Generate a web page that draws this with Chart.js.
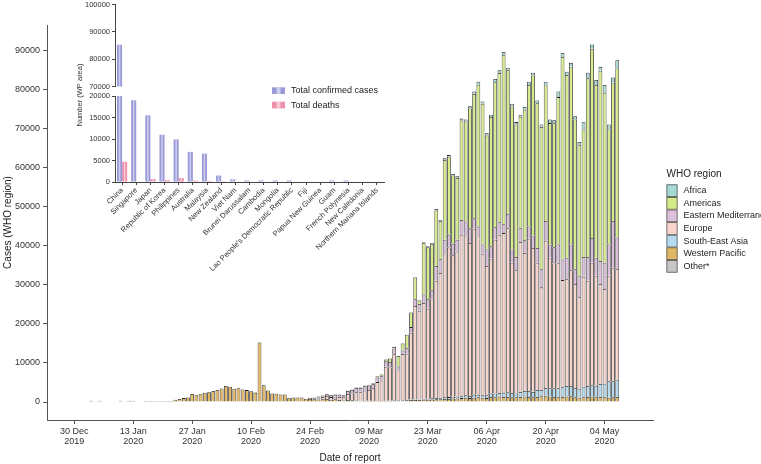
<!DOCTYPE html>
<html>
<head>
<meta charset="utf-8">
<script src="https://cdn.jsdelivr.net/npm/chart.js@4.4.1/dist/chart.umd.min.js"></script>
<style>
  body { margin: 0; background: #fff; }
  #wrap { position: relative; width: 761px; height: 464px; overflow: hidden; }
  canvas { position: absolute; }
  #main { left: 0; top: 0; }
  #insetTop { left: 60px; top: -2px; }
  #insetLow { left: 60px; top: 56px; }
</style>
</head>
<body>
<div id="wrap">
  <canvas id="main" width="761" height="464"></canvas>
  <canvas id="insetTop" width="330" height="95"></canvas>
  <canvas id="insetLow" width="330" height="220"></canvas>
</div>
<script>
// daily new cases by WHO region, one row per week, 30 Dec 2019 .. 07 May 2020
const westernPacific = [
  0, 0, 0, 0, 300, 0, 300,                      // 30 Dec
  0, 0, 0, 0, 300, 0, 300,                      // 06 Jan
  300, 0, 0, 250, 250, 250, 250,                // 13 Jan
  250, 250, 250, 600, 800, 1000, 1150,          // 20 Jan
  2050, 1700, 2100, 2350, 2500, 2800, 3100,     // 27 Jan
  3450, 4080, 3900, 3400, 3650, 3200, 3050,     // 03 Feb
  2750, 2400, 15240, 4300, 2950, 2190, 2110,    // 10 Feb
  1940, 1940, 930, 1180, 1180, 1180, 850,       // 17 Feb
  800, 700, 650, 700, 800, 600, 700,            // 24 Feb
  500, 400, 500, 450, 400, 350, 300,            // 02 Mar
  300, 250, 250, 250, 300, 300, 400,            // 09 Mar
  400, 400, 450, 500, 500, 500, 600,            // 16 Mar
  600, 650, 700, 700, 800, 800, 900,            // 23 Mar
  900, 1000, 1100, 1000, 1100, 1200, 1100,      // 30 Mar
  1000, 1300, 1200, 1400, 1300, 1300, 1200,     // 06 Apr
  1200, 1300, 1400, 1300, 1200, 1300, 1500,     // 13 Apr
  1600, 1400, 1300, 1200, 1300, 1400, 1500,     // 20 Apr
  1200, 1100, 1200, 1300, 1400, 1200, 1300,     // 27 Apr
  1200, 1100, 1200, 1300                        // 04 May
];
const southEastAsia = [
  0, 0, 0, 0, 0, 0, 0,
  0, 0, 0, 0, 0, 0, 0,
  0, 0, 0, 0, 0, 0, 0,
  0, 0, 0, 0, 0, 0, 0,
  0, 0, 0, 0, 0, 0, 0,
  0, 0, 0, 0, 0, 0, 0,
  0, 0, 0, 0, 0, 0, 0,
  0, 0, 0, 0, 0, 0, 0,
  0, 0, 0, 0, 0, 0, 0,
  0, 0, 0, 0, 0, 0, 0,
  0, 0, 40, 40, 50, 50, 100,                    // 09 Mar
  100, 100, 100, 150, 150, 150, 200,
  250, 300, 300, 350, 400, 450, 450,
  500, 500, 600, 550, 800, 700, 600,
  700, 900, 1000, 900, 1100, 1200, 1100,
  1000, 1300, 1400, 1500, 1400, 1800, 1600,
  2000, 2100, 2200, 2300, 2500, 2700, 2600,
  2400, 2300, 2700, 2800, 2900, 3000, 3300,
  3500, 4200, 4100, 4400
];
const europe = [
  0, 0, 0, 0, 0, 0, 0,
  0, 0, 0, 0, 0, 0, 0,
  0, 0, 0, 0, 0, 0, 0,
  0, 0, 0, 0, 0, 0, 0,
  0, 0, 0, 0, 0, 0, 0,
  0, 0, 0, 0, 0, 0, 0,
  0, 0, 0, 0, 0, 0, 0,
  0, 0, 0, 0, 0, 0, 0,
  200, 280, 530, 600, 750, 650, 650,            // 24 Feb
  800, 800, 1550, 1750, 2100, 2140, 2660,
  2800, 3240, 4800, 5200, 8650, 8500, 11700,
  7800, 11800, 11800, 17100, 23900, 22700, 24500,
  23000, 25500, 30000, 31950, 36800, 38250, 36150,
  37100, 41270, 40900, 39120, 42390, 40700, 36200,
  33090, 34440, 39310, 40470, 40790, 41950, 33340,
  31500, 38320, 35340, 38960, 36810, 32540, 26220,
  37660, 33390, 31900, 32140, 27370, 27320, 29600,
  26570, 23400, 28110, 26900, 31340, 28070, 25570,
  24210, 26970, 29070, 28250
];
const easternMed = [
  0, 0, 0, 0, 0, 0, 0,
  0, 0, 0, 0, 0, 0, 0,
  0, 0, 0, 0, 0, 0, 0,
  0, 0, 0, 0, 0, 0, 0,
  0, 0, 0, 0, 0, 0, 0,
  0, 0, 0, 0, 0, 0, 0,
  0, 0, 0, 0, 0, 0, 0,
  0, 0, 0, 0, 0, 0, 0,
  100, 200, 250, 350, 450, 500, 550,            // 24 Feb
  600, 550, 800, 900, 1100, 1100, 1100,
  1100, 1050, 1200, 1100, 1400, 1400, 1500,
  800, 900, 1400, 1400, 1700, 1700, 2200,
  2400, 2100, 3800, 3500, 3500, 3300, 3000,
  3000, 3790, 3540, 3780, 2690, 2280, 2360,
  4210, 3200, 3200, 3200, 2280, 3540, 3360,
  3360, 3530, 3200, 3120, 3190, 3770, 4630,
  5050, 3370, 4180, 4620, 5300, 5470, 6560,
  3780, 5470, 5050, 6060, 6290, 4620, 5880,
  6730, 7990, 11940, 8140
];
const americas = [
  0, 0, 0, 0, 0, 0, 0,
  0, 0, 0, 0, 0, 0, 0,
  0, 0, 0, 0, 0, 0, 0,
  0, 0, 0, 0, 0, 0, 0,
  0, 0, 0, 0, 0, 0, 0,
  0, 0, 0, 0, 0, 0, 0,
  0, 0, 0, 0, 0, 0, 0,
  0, 0, 0, 0, 0, 0, 0,
  0, 0, 0, 40, 30, 20, 40,                      // 24 Feb
  40, 20, 100, 100, 110, 110, 140,
  200, 260, 320, 450, 500, 900, 400,
  2650, 1750, 3450, 3750, 5600, 900, 13100,
  13300, 11800, 14200, 9700, 20400, 19900, 17400,
  15800, 25410, 25580, 30600, 31810, 36240, 36010,
  29140, 33040, 37070, 38180, 43180, 36860, 36570,
  33910, 28530, 33380, 36190, 40890, 37010, 36410,
  34610, 31060, 31680, 37700, 51770, 46710, 45460,
  38270, 33390, 32650, 45700, 48400, 44170, 48640,
  43480, 29440, 35340, 43180
];
const africa = [
  0, 0, 0, 0, 0, 0, 0,
  0, 0, 0, 0, 0, 0, 0,
  0, 0, 0, 0, 0, 0, 0,
  0, 0, 0, 0, 0, 0, 0,
  0, 0, 0, 0, 0, 0, 0,
  0, 0, 0, 0, 0, 0, 0,
  0, 0, 0, 0, 0, 0, 0,
  0, 0, 0, 0, 0, 0, 0,
  0, 0, 0, 0, 0, 0, 0,
  0, 0, 0, 0, 0, 0, 0,
  0, 0, 40, 40, 50, 50, 40,                     // 09 Mar
  40, 50, 70, 80, 140, 160, 230,
  270, 310, 340, 360, 400, 430, 430,
  450, 500, 500, 550, 600, 800, 600,
  550, 600, 800, 700, 850, 600, 700,
  600, 500, 700, 850, 700, 700, 600,
  1000, 900, 800, 1430, 1000, 840, 1000,
  840, 840, 1850, 1430, 1090, 1260, 1010,
  1940, 1260, 1350, 2100
];
const other = [
  0, 0, 0, 0, 0, 0, 0,
  0, 0, 0, 0, 0, 0, 0,
  0, 0, 0, 0, 0, 0, 0,
  0, 0, 0, 0, 0, 0, 0,
  0, 0, 0, 0, 0, 0, 0,
  0, 0, 0, 0, 0, 0, 0,
  0, 0, 0, 0, 0, 0, 0,
  0, 0, 0, 0, 0, 0, 0,
  0, 0, 0, 0, 0, 0, 0,
  0, 0, 0, 0, 0, 0, 0,
  0, 0, 0, 0, 0, 0, 0,
  0, 0, 0, 0, 0, 0, 0,
  0, 0, 0, 0, 0, 0, 0,
  0, 0, 0, 0, 0, 0, 0,
  0, 0, 0, 0, 0, 0, 0,
  0, 0, 0, 0, 0, 0, 0,
  0, 0, 0, 0, 0, 0, 0,
  0, 0, 0, 0, 0, 0, 0,
  0, 0, 0, 0
];
// one label every 14 days from 30 Dec 2019
const tickLabels = [
  ['30 Dec', '2019'], ['13 Jan', '2020'], ['27 Jan', '2020'], ['10 Feb', '2020'], ['24 Feb', '2020'],
  ['09 Mar', '2020'], ['23 Mar', '2020'], ['06 Apr', '2020'], ['20 Apr', '2020'], ['04 May', '2020']
];
const caseTicks = [0, 10000, 20000, 30000, 40000, 50000, 60000, 70000, 80000, 90000];

// inset: Western Pacific countries
const countries = ['China', 'Singapore', 'Japan', 'Republic of Korea', 'Philippines', 'Australia',
  'Malaysia', 'New Zealand', 'Viet Nam', 'Brunei Darussalam', 'Cambodia', 'Mongolia',
  "Lao People's Democratic Republic", 'Fiji', 'Papua New Guinea', 'Guam', 'French Polynesia',
  'New Caledonia', 'Northern Mariana Islands'];
const confirmed = [85300, 19000, 15500, 11000, 9900, 7000, 6600, 1500, 600, 350, 350, 350, 350, 0, 0, 350, 350, 0, 0];
const deaths = [4700, 0, 700, 450, 900, 300, 250, 200, 0, 0, 0, 0, 0, 0, 0, 0, 0, 0, 0];
const upperTicks = [70000, 80000, 90000, 100000];
const lowerTicks = [0, 5000, 10000, 15000, 20000];

// axis runs from 24 Dec 2019 to 15 May 2020
const lead = 6;
const axisDays = [];
for (let i = 0; i < 144; i++) {
  const d = new Date(2019, 11, 24 + i);
  axisDays.push(d.getFullYear() + '-' + (d.getMonth() + 1) + '-' + d.getDate());
}
const pad = v => Array(lead).fill(null).concat(v);
const fixTicks = list => s => { s.ticks = list.map(v => ({value: v})); };

const FONT = '"Liberation Sans", Arial, sans-serif';
Chart.defaults.font.family = FONT;
Chart.defaults.color = '#333';

// draws a ggplot-like key next to the panel
const keyPlugin = {
  id: 'key',
  afterDraw(chart, args, o) {
    const {ctx, chartArea: a} = chart;
    const x = a.right + o.dx;
    const y = a.top + o.dy;
    ctx.save();
    ctx.textAlign = 'left';
    ctx.textBaseline = 'middle';
    if (o.title) {
      ctx.font = o.titleFont;
      ctx.fillStyle = '#222';
      ctx.fillText(o.title, x, y - o.titleGap);
    }
    ctx.font = o.font;
    const sets = o.reverse ? chart.data.datasets.slice().reverse() : chart.data.datasets;
    sets.forEach((ds, i) => {
      const top = y + i * o.step;
      ctx.fillStyle = ds.backgroundColor;
      ctx.fillRect(x, top, o.boxW, o.boxH);
      if (o.shine) {
        ctx.fillStyle = 'rgba(255,255,255,0.5)';
        ctx.fillRect(x + o.boxW * 0.35, top, o.boxW * 0.3, o.boxH);
      }
      if (o.stroke) {
        ctx.strokeStyle = o.stroke;
        ctx.lineWidth = 0.8;
        ctx.strokeRect(x + 0.4, top + 0.4, o.boxW - 0.8, o.boxH - 0.8);
      }
      ctx.fillStyle = '#222';
      ctx.fillText(ds.label, x + o.textDx, top + o.boxH / 2);
    });
    ctx.restore();
  }
};

// light stripe down the middle of the inset bars
const shinePlugin = {
  id: 'shine',
  afterDatasetsDraw(chart) {
    const {ctx, chartArea: a} = chart;
    ctx.save();
    ctx.beginPath();
    ctx.rect(a.left, a.top, a.right - a.left, a.bottom - a.top);
    ctx.clip();
    ctx.fillStyle = 'rgba(255,255,255,0.5)';
    chart.data.datasets.forEach((ds, i) => {
      chart.getDatasetMeta(i).data.forEach(bar => {
        const p = bar.getProps(['x', 'y', 'base', 'width'], true);
        ctx.fillRect(p.x - p.width * 0.15, Math.min(p.y, p.base), p.width * 0.3, Math.abs(p.base - p.y));
      });
    });
    ctx.restore();
  }
};

// y title shared by both inset panels
const sideTitle = {
  id: 'sideTitle',
  afterDraw(chart, args, o) {
    const {ctx, chartArea: a} = chart;
    ctx.save();
    ctx.translate(o.x, a.top + o.dy);
    ctx.rotate(-Math.PI / 2);
    ctx.font = o.font;
    ctx.fillStyle = '#333';
    ctx.textAlign = 'center';
    ctx.textBaseline = 'middle';
    ctx.fillText(o.text, 0, 0);
    ctx.restore();
  }
};

const regions = [
  {label: 'Other*', data: other, color: '#c8c8c8'},
  {label: 'Western Pacific', data: westernPacific, color: '#e3b864'},
  {label: 'South-East Asia', data: southEastAsia, color: '#b5dbef'},
  {label: 'Europe', data: europe, color: '#f8d4cc'},
  {label: 'Eastern Mediterranean', data: easternMed, color: '#dbbfdb'},
  {label: 'Americas', data: americas, color: '#d6eb8a'},
  {label: 'Africa', data: africa, color: '#a8dad5'}
];

new Chart(document.getElementById('main'), {
  type: 'bar',
  data: {
    labels: axisDays,
    datasets: regions.map(r => ({
      label: r.label,
      data: pad(r.data),
      backgroundColor: r.color,
      borderColor: '#222',
      borderWidth: 0.8,
      categoryPercentage: 0.9,
      barPercentage: 1
    }))
  },
  options: {
    responsive: false,
    animation: false,
    layout: {padding: {top: 25, right: 108, bottom: 0, left: 0}},
    plugins: {
      legend: {display: false},
      tooltip: {enabled: false},
      key: {
        title: 'WHO region', titleFont: '10px ' + FONT, titleGap: 10.4,
        font: '9px ' + FONT, dx: 13.5, dy: 159.4, boxW: 11, boxH: 12.6, step: 12.6,
        textDx: 17, stroke: '#555', reverse: true
      }
    },
    scales: {
      x: {
        stacked: true,
        ticks: {
          autoSkip: false, maxRotation: 0, minRotation: 0, padding: 2,
          font: {size: 9, lineHeight: 1.15}, color: '#333',
          callback: (v, i) => {
            const d = i - lead;
            return d >= 0 && d % 14 === 0 && tickLabels[d / 14] ? tickLabels[d / 14] : '';
          }
        },
        grid: {
          drawOnChartArea: false, offset: false, tickLength: 4,
          color: c => (c.tick && c.tick.label ? '#555' : 'rgba(0,0,0,0)')
        },
        border: {color: '#555'},
        title: {display: true, text: 'Date of report', font: {size: 10}, color: '#222', padding: 0},
        afterFit: s => { s.height = 44; }
      },
      y: {
        stacked: true,
        min: -4600,
        max: 96400,
        afterBuildTicks: fixTicks(caseTicks),
        ticks: {font: {size: 9}, color: '#333', padding: 3, callback: v => String(v)},
        grid: {drawOnChartArea: false, tickLength: 4, color: '#555'},
        border: {color: '#555'},
        title: {display: true, text: 'Cases (WHO region)', font: {size: 10}, color: '#222', padding: {top: 2, bottom: 0}},
        afterFit: s => { s.width = 47; }
      }
    }
  },
  plugins: [keyPlugin]
});

const insetSets = () => [
  {label: 'Total confirmed cases', data: confirmed, backgroundColor: '#9a9ad8'},
  {label: 'Total deaths', data: deaths, backgroundColor: '#ee8fa9'}
];
const insetTicks = {font: {size: 7.5}, color: '#333', padding: 2, callback: v => String(v)};

// upper part of the broken axis
new Chart(document.getElementById('insetTop'), {
  type: 'bar',
  data: {labels: countries, datasets: insetSets()},
  options: {
    responsive: false,
    animation: false,
    layout: {padding: {top: 4.5, bottom: 4.5, left: 0, right: 6}},
    datasets: {bar: {categoryPercentage: 0.72, barPercentage: 1, clip: 0}},
    plugins: {legend: {display: false}, tooltip: {enabled: false}},
    scales: {
      x: {display: false},
      y: {
        min: 70000, max: 100000,
        afterBuildTicks: fixTicks(upperTicks),
        ticks: insetTicks,
        grid: {drawOnChartArea: false, tickLength: 3, color: '#444'},
        border: {color: '#444'},
        afterFit: s => { s.width = 55; }
      }
    }
  },
  plugins: [shinePlugin]
});

// lower part with the country axis
new Chart(document.getElementById('insetLow'), {
  type: 'bar',
  data: {labels: countries, datasets: insetSets()},
  options: {
    responsive: false,
    animation: false,
    layout: {padding: {top: 40, bottom: 0, left: 0, right: 6}},
    datasets: {bar: {categoryPercentage: 0.72, barPercentage: 1, clip: 0}},
    plugins: {
      legend: {display: false},
      tooltip: {enabled: false},
      key: {font: '9px ' + FONT, dx: -112, dy: -8.7, boxW: 13, boxH: 6.7, step: 14.4, textDx: 19, shine: true},
      sideTitle: {text: 'Number (WP area)', font: '7.5px ' + FONT, x: 20, dy: -1}
    },
    scales: {
      x: {
        ticks: {autoSkip: false, maxRotation: 45, minRotation: 45, font: {size: 7.5}, color: '#333', padding: 1},
        grid: {drawOnChartArea: false, offset: false, tickLength: 3, color: '#444'},
        border: {color: '#444'},
        afterFit: s => { s.height = 94; }
      },
      y: {
        min: 0, max: 20000,
        afterBuildTicks: fixTicks(lowerTicks),
        ticks: insetTicks,
        grid: {drawOnChartArea: false, tickLength: 3, color: '#444'},
        border: {color: '#444'},
        afterFit: s => { s.width = 55; }
      }
    }
  },
  plugins: [shinePlugin, keyPlugin, sideTitle]
});
</script>
</body>
</html>
